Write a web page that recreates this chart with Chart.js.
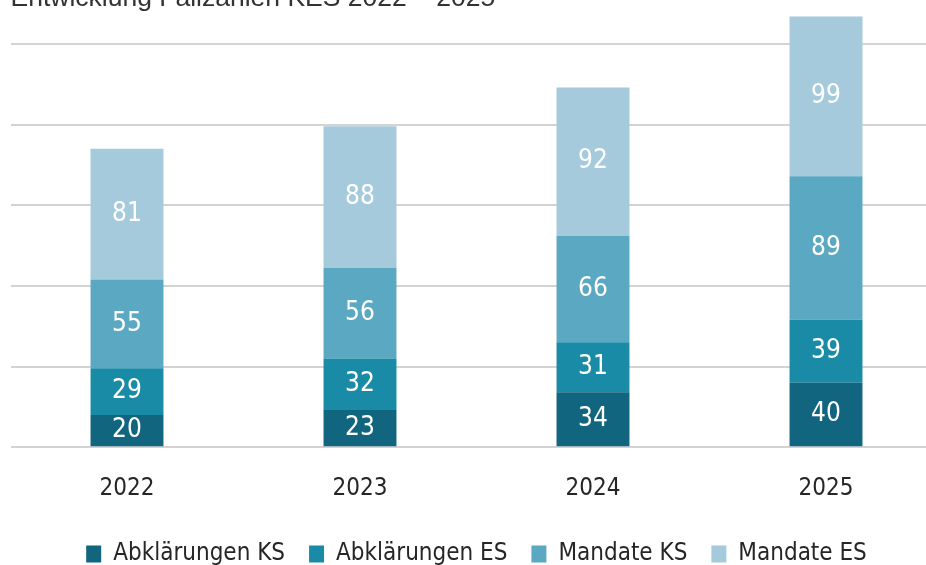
<!DOCTYPE html>
<html>
<head>
<meta charset="utf-8">
<script src="https://cdn.jsdelivr.net/npm/chart.js@4/dist/chart.umd.min.js"></script>
<style>
  html, body { margin: 0; padding: 0; background: #fff; overflow: hidden; }
  #wrap { position: absolute; left: 0; top: -17px; width: 960px; height: 596px; }
</style>
</head>
<body>
<div id="wrap"><canvas id="fallChart"></canvas></div>
<script>
const years = ['2022', '2023', '2024', '2025'];
const abklaerungenKS = [20, 23, 34, 40];
const abklaerungenES = [29, 32, 31, 39];
const mandateKS = [55, 56, 66, 89];
const mandateES = [81, 88, 92, 99];

const narrow = "'Liberation Sans Narrow', 'DejaVu Sans Condensed', sans-serif";

// write the value in the middle of every segment
const segmentLabels = {
  id: 'segmentLabels',
  afterDatasetsDraw(chart) {
    const ctx = chart.ctx;
    ctx.save();
    ctx.fillStyle = '#ffffff';
    ctx.font = '26px ' + narrow;
    ctx.textAlign = 'center';
    ctx.textBaseline = 'middle';
    chart.data.datasets.forEach((ds, i) => {
      chart.getDatasetMeta(i).data.forEach((bar, j) => {
        const { x, y, base } = bar.getProps(['x', 'y', 'base'], true);
        ctx.fillText(ds.data[j], x, (y + base) / 2);
      });
    });
    ctx.restore();
  }
};

new Chart(document.getElementById('fallChart'), {
  type: 'bar',
  data: {
    labels: years,
    datasets: [
      { label: 'Abklärungen KS', data: abklaerungenKS, backgroundColor: '#11657f' },
      { label: 'Abklärungen ES', data: abklaerungenES, backgroundColor: '#1a8ba6' },
      { label: 'Mandate KS', data: mandateKS, backgroundColor: '#5aa8c1' },
      { label: 'Mandate ES', data: mandateES, backgroundColor: '#a4cadb' }
    ]
  },
  options: {
    responsive: true,
    maintainAspectRatio: false,
    animation: false,
    layout: { padding: { left: 10.5, right: 17.5, top: 0, bottom: 3 } },
    datasets: { bar: { barPercentage: 0.313, categoryPercentage: 1 } },
    plugins: {
      title: {
        display: true,
        text: 'Entwicklung Fallzahlen KES 2022 – 2025',
        align: 'start',
        color: '#333333',
        font: { family: "'Liberation Sans', Arial, sans-serif", size: 26.5, weight: 'normal' },
        padding: { top: 0, bottom: 0 }
      },
      legend: {
        position: 'bottom',
        labels: {
          color: '#262626',
          font: { family: narrow, size: 24 },
          boxWidth: 15,
          boxHeight: 17,
          padding: 24
        }
      },
      tooltip: { enabled: false }
    },
    scales: {
      x: {
        stacked: true,
        grid: { display: false, drawTicks: false },
        border: { display: false },
        ticks: { color: '#262626', font: { family: narrow, size: 24 }, padding: 27 },
        afterFit(scale) { scale.height -= 12; }
      },
      y: {
        stacked: true,
        min: 0,
        max: 268,
        grid: { color: '#d3d3d3', lineWidth: 2, drawTicks: false },
        border: { display: false },
        ticks: { display: false, stepSize: 50, includeBounds: false }
      }
    }
  },
  plugins: [segmentLabels]
});
</script>
</body>
</html>
